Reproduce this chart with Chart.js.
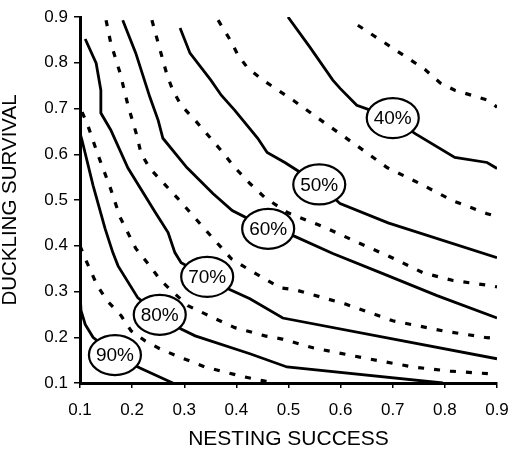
<!DOCTYPE html>
<html>
<head>
<meta charset="utf-8">
<script src="https://cdn.jsdelivr.net/npm/chart.js@4.4.1/dist/chart.umd.min.js"></script>
<style>
  html, body { margin: 0; padding: 0; background: #fff; }
  #wrap { width: 509px; height: 450px; }
</style>
</head>
<body>
<div id="wrap"><canvas id="contourChart"></canvas></div>
<script>
// axis ticks (nesting success on x, duckling survival on y)
const nestingTicks = [0.1, 0.2, 0.3, 0.4, 0.5, 0.6, 0.7, 0.8, 0.9];
const survivalTicks = [0.1, 0.2, 0.3, 0.4, 0.5, 0.6, 0.7, 0.8, 0.9];

// contour lines, [nesting success, duckling survival] pairs
const c90 = [[0.1, 0.297], [0.102, 0.258], [0.110, 0.228], [0.125, 0.200], [0.167, 0.161], [0.215, 0.133], [0.278, 0.1]];
const c85 = [[0.1, 0.40], [0.110, 0.372], [0.133, 0.313], [0.152, 0.280], [0.179, 0.247], [0.198, 0.214], [0.225, 0.192],
  [0.253, 0.175], [0.286, 0.159], [0.340, 0.135], [0.409, 0.115], [0.455, 0.104], [0.474, 0.1]];
const c80 = [[0.1, 0.646], [0.104, 0.630], [0.125, 0.532], [0.148, 0.438], [0.163, 0.385], [0.173, 0.356], [0.211, 0.286],
  [0.253, 0.249], [0.294, 0.218], [0.321, 0.203], [0.426, 0.164], [0.497, 0.135], [0.796, 0.1]];
const c75 = [[0.104, 0.692], [0.115, 0.663], [0.135, 0.597], [0.158, 0.527], [0.177, 0.462], [0.207, 0.394], [0.234, 0.356],
  [0.255, 0.324], [0.282, 0.295], [0.307, 0.269], [0.340, 0.251], [0.397, 0.221], [0.455, 0.203], [0.488, 0.196],
  [0.547, 0.177], [0.643, 0.155], [0.739, 0.135], [0.810, 0.126], [0.9, 0.119]];
const c70 = [[0.110, 0.852], [0.131, 0.799], [0.140, 0.740], [0.140, 0.690], [0.159, 0.653], [0.192, 0.570], [0.244, 0.474],
  [0.269, 0.429], [0.282, 0.385], [0.294, 0.363], [0.344, 0.332], [0.384, 0.306], [0.426, 0.284], [0.489, 0.242], [0.9, 0.153]];
const c65 = [[0.150, 0.893], [0.159, 0.843], [0.177, 0.777], [0.192, 0.707], [0.209, 0.641], [0.217, 0.602], [0.234, 0.569],
  [0.288, 0.503], [0.342, 0.433], [0.390, 0.372], [0.428, 0.345], [0.484, 0.308], [0.512, 0.304], [0.608, 0.273],
  [0.700, 0.236], [0.796, 0.214], [0.881, 0.199], [0.9, 0.197]];
const c60 = [[0.182, 0.893], [0.207, 0.821], [0.234, 0.725], [0.250, 0.674], [0.259, 0.635], [0.305, 0.571], [0.355, 0.514],
  [0.392, 0.477], [0.461, 0.437], [0.509, 0.422], [0.585, 0.383], [0.681, 0.339], [0.785, 0.291], [0.9, 0.242]];
const c55 = [[0.238, 0.893], [0.250, 0.843], [0.267, 0.773], [0.278, 0.740], [0.294, 0.707], [0.321, 0.674], [0.349, 0.637],
  [0.371, 0.608], [0.397, 0.571], [0.426, 0.536], [0.455, 0.505], [0.499, 0.472], [0.570, 0.440], [0.633, 0.407],
  [0.691, 0.378], [0.758, 0.341], [0.816, 0.324], [0.887, 0.313], [0.9, 0.310]];
const c50 = [[0.292, 0.876], [0.311, 0.821], [0.351, 0.762], [0.371, 0.729], [0.397, 0.696], [0.441, 0.635], [0.459, 0.604],
  [0.493, 0.582], [0.559, 0.534], [0.599, 0.492], [0.691, 0.450], [0.9, 0.374]];
const c45 = [[0.365, 0.893], [0.388, 0.850], [0.403, 0.817], [0.422, 0.788], [0.451, 0.762], [0.509, 0.718], [0.570, 0.668],
  [0.631, 0.619], [0.689, 0.571], [0.752, 0.536], [0.814, 0.499], [0.881, 0.470], [0.9, 0.464]];
const c40 = [[0.499, 0.9], [0.541, 0.834], [0.585, 0.762], [0.599, 0.744], [0.631, 0.707], [0.700, 0.679], [0.743, 0.645],
  [0.819, 0.593], [0.881, 0.582], [0.9, 0.569]];
const c35 = [[0.633, 0.882], [0.700, 0.832], [0.762, 0.785], [0.791, 0.756], [0.819, 0.740], [0.883, 0.718], [0.9, 0.703]];

// oval labels on the solid contours
const labelText = ['90%', '80%', '70%', '60%', '50%', '40%'];
const labelX = [0.167, 0.253, 0.344, 0.461, 0.559, 0.700];
const labelY = [0.161, 0.249, 0.332, 0.437, 0.534, 0.679];

const FONT = "'Liberation Sans', Arial, Helvetica, sans-serif";
Chart.defaults.font.family = FONT;
Chart.defaults.color = '#000';

const solid = [c90, c80, c70, c60, c50, c40];
const dashed = [c85, c75, c65, c55, c45, c35];

const toPts = arr => arr.map(p => ({ x: p[0], y: p[1] }));

const datasets = [];
dashed.forEach(line => datasets.push({
  data: toPts(line),
  borderColor: '#000',
  borderWidth: 3.2,
  borderDash: [6, 10],
  borderCapStyle: 'butt',
  pointRadius: 0,
  showLine: true,
  tension: 0
}));
solid.forEach(line => datasets.push({
  data: toPts(line),
  borderColor: '#000',
  borderWidth: 2.8,
  pointRadius: 0,
  showLine: true,
  tension: 0
}));

const ovalLabels = {
  id: 'ovalLabels',
  afterDatasetsDraw(chart) {
    const { ctx, scales: { x, y } } = chart;
    ctx.save();
    labelText.forEach((t, i) => {
      const px = x.getPixelForValue(labelX[i]);
      const py = y.getPixelForValue(labelY[i]);
      ctx.beginPath();
      ctx.ellipse(px, py, 26, 20, 0, 0, Math.PI * 2);
      ctx.fillStyle = '#fff';
      ctx.fill();
      ctx.lineWidth = 2.2;
      ctx.strokeStyle = '#000';
      ctx.stroke();
      ctx.fillStyle = '#000';
      ctx.font = '19px ' + FONT;
      ctx.textAlign = 'center';
      ctx.textBaseline = 'middle';
      ctx.fillText(t, px, py + 1);
    });
    ctx.restore();
  }
};

const ctx = document.getElementById('contourChart').getContext('2d');

new Chart(ctx, {
  type: 'scatter',
  data: { datasets },
  plugins: [ovalLabels],
  options: {
    responsive: true,
    maintainAspectRatio: false,
    animation: false,
    layout: { padding: { top: 17, right: 12, left: 0, bottom: 0 } },
    plugins: {
      legend: { display: false },
      tooltip: { enabled: false }
    },
    scales: {
      x: {
        type: 'linear',
        min: 0.1,
        max: 0.9,
        afterBuildTicks: s => { s.ticks = nestingTicks.map(v => ({ value: v })); },
        afterFit: s => { s.height = 67; s.paddingLeft = 0; s.paddingRight = 0; },
        grid: { drawOnChartArea: false, drawTicks: true, tickLength: 5, color: '#000', lineWidth: 1.5 },
        border: { display: true, color: '#000', width: 3 },
        ticks: {
          padding: 12,
          maxRotation: 0,
          font: { size: 17 },
          callback: v => v.toFixed(1)
        },
        title: {
          display: true,
          text: 'NESTING SUCCESS',
          font: { size: 21, lineHeight: 1 },
          padding: 0
        }
      },
      y: {
        type: 'linear',
        min: 0.1,
        max: 0.9,
        afterBuildTicks: s => { s.ticks = survivalTicks.map(v => ({ value: v })); },
        afterFit: s => { s.width = 80; s.paddingTop = 0; s.paddingBottom = 0; },
        grid: { drawOnChartArea: false, drawTicks: true, tickLength: 6, color: '#000', lineWidth: 1.5 },
        border: { display: true, color: '#000', width: 3 },
        ticks: {
          padding: 6,
          font: { size: 17 },
          callback: v => v.toFixed(1)
        },
        title: {
          display: true,
          text: 'DUCKLING SURVIVAL',
          font: { size: 20.5, lineHeight: 1 },
          padding: 0
        }
      }
    }
  }
});
</script>
</body>
</html>
